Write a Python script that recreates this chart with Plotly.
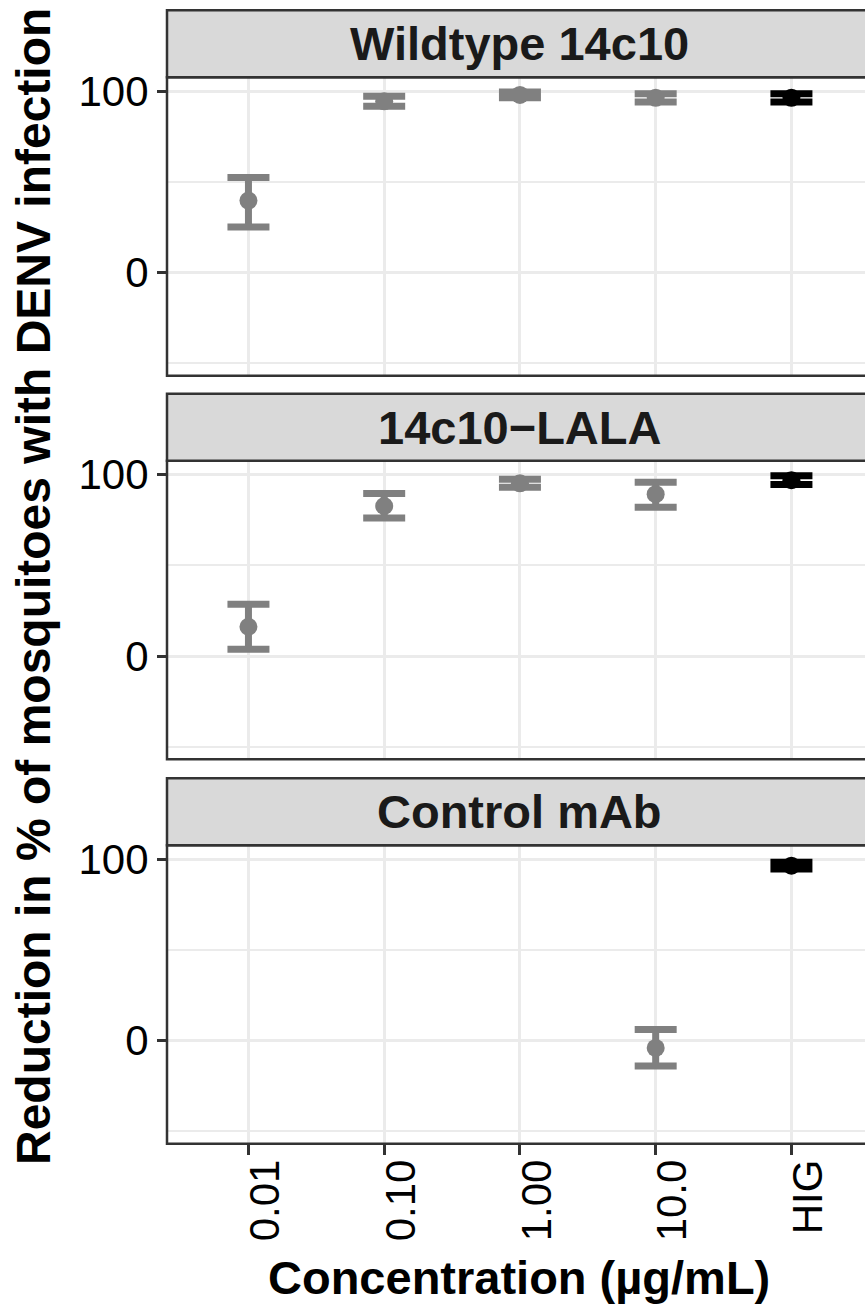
import plotly.graph_objects as go

# ---------------- data ----------------
categories = ["0.01", "0.10", "1.00", "10.0", "HIG"]
panel_titles = ["Wildtype 14c10", "14c10\u2212LALA", "Control mAb"]

wt_mean = [39.7, 94.4, 97.9, 96.3, 96.3]
wt_low = [25.2, 91.6, 96.3, 94.0, 94.0]
wt_high = [52.4, 97.1, 99.5, 98.6, 98.6]

lala_mean = [16.2, 82.7, 95.2, 89.2, 96.9]
lala_low = [3.8, 76.1, 93.0, 82.0, 94.6]
lala_high = [28.6, 89.6, 97.4, 95.8, 99.3]

ctrl_mean = [None, None, None, -4.0, 96.4]
ctrl_low = [None, None, None, -13.9, 94.6]
ctrl_high = [None, None, None, 6.2, 98.2]

y_ticks = [0, 100]
x_title = "Concentration (\u00b5g/mL)"
y_title = "Reduction in % of mosquitoes with DENV infection"

# ---------------- layout constants ----------------
W, H = 865, 1312
L_MARGIN = 167
panel_px = [(77.3, 375.8), (460.8, 759.3), (845.3, 1143.8)]  # top, bottom
STRIP_H = 67
Y_RANGE = [-56.8, 107.6]
X_RANGE = [-0.6, 4.542]
GREY = "#808080"
BLACK = "#000000"
BORDER = "#333333"
GRID = "#ebebeb"
FONT = "Liberation Sans"


def frac(px):
    return 1 - px / H


series = [
    (wt_mean, wt_low, wt_high),
    (lala_mean, lala_low, lala_high),
    (ctrl_mean, ctrl_low, ctrl_high),
]

fig = go.Figure()

for i, (mean, low, high) in enumerate(series):
    xa = "x" if i == 0 else f"x{i + 1}"
    ya = "y" if i == 0 else f"y{i + 1}"
    for is_hig, color in [(False, GREY), (True, BLACK)]:
        xs, ys, up, dn = [], [], [], []
        for c, m, lo, hi in zip(categories, mean, low, high):
            if m is None or (c == "HIG") != is_hig:
                continue
            xs.append(c)
            ys.append(m)
            up.append(hi - m)
            dn.append(m - lo)
        if not xs:
            continue
        fig.add_trace(go.Scatter(
            x=xs, y=ys, xaxis=xa, yaxis=ya, mode="markers",
            marker=dict(size=18, color=color, line=dict(width=0)),
            error_y=dict(type="data", array=up, arrayminus=dn, visible=True,
                         color=color, thickness=7, width=21),
            showlegend=False, hoverinfo="skip",
        ))

layout = dict(
    width=W, height=H,
    margin=dict(l=L_MARGIN, r=0, t=0, b=0, pad=0),
    paper_bgcolor="white", plot_bgcolor="white",
    font=dict(family=FONT, color="black"),
    showlegend=False,
)

shapes = []
annotations = []
for i, (top, bot) in enumerate(panel_px):
    sfx = "" if i == 0 else str(i + 1)
    last = i == len(panel_px) - 1
    layout[f"xaxis{sfx}"] = dict(
        domain=[0, 1], anchor=f"y{sfx}", type="category",
        categoryorder="array", categoryarray=categories,
        range=X_RANGE, showgrid=True, gridcolor=GRID, gridwidth=3,
        zeroline=False, showline=False, automargin=False,
        showticklabels=last, ticks="outside" if last else "",
        ticklen=10, tickwidth=3, tickcolor=BORDER,
        tickangle=-90, tickfont=dict(size=42, color="black", family=FONT),
        ticklabelshift=17, ticklabelstandoff=-12,
        fixedrange=True,
    )
    layout[f"yaxis{sfx}"] = dict(
        domain=[frac(bot), frac(top)], anchor=f"x{sfx}",
        range=Y_RANGE, tickmode="array", tickvals=y_ticks,
        showgrid=True, gridcolor=GRID, gridwidth=3,
        minor=dict(tickmode="linear", tick0=0, dtick=50, showgrid=True,
                   gridcolor=GRID, gridwidth=2, ticks=""),
        zeroline=False, showline=False, automargin=False,
        ticks="outside", ticklen=9, tickwidth=3, tickcolor=BORDER,
        tickfont=dict(size=42, color="black", family=FONT),
        ticklabelstandoff=0, fixedrange=True,
    )
    # panel border (right edge lies beyond the picture)
    shapes.append(dict(type="rect", xref="paper", yref="paper",
                       x0=0, x1=1.05, y0=frac(bot), y1=frac(top),
                       line=dict(color=BORDER, width=2.5),
                       fillcolor="rgba(0,0,0,0)", layer="above"))
    # strip
    shapes.append(dict(type="rect", xref="paper", yref="paper",
                       x0=0, x1=1.05, y0=frac(top), y1=frac(top - STRIP_H),
                       line=dict(color=BORDER, width=2.5),
                       fillcolor="#d9d9d9", layer="above"))
    annotations.append(dict(
        text=f"<b>{panel_titles[i]}</b>", xref="paper", yref="paper",
        x=0.505, y=frac(top - STRIP_H / 2), xanchor="center", yanchor="middle",
        showarrow=False, font=dict(size=47, color="#1a1a1a", family=FONT),
    ))

annotations.append(dict(
    text=f"<b>{x_title}</b>", xref="paper", yref="paper",
    x=0.505, y=frac(1277), xanchor="center", yanchor="middle",
    showarrow=False, font=dict(size=47, color="black", family=FONT),
))
annotations.append(dict(
    text=f"<b>{y_title}</b>", xref="paper", yref="paper",
    x=0, xshift=-134, y=frac(587), xanchor="center", yanchor="middle",
    textangle=-90, showarrow=False,
    font=dict(size=48, color="black", family=FONT),
))

layout["shapes"] = shapes
layout["annotations"] = annotations
fig.update_layout(**layout)

fig.write_html(
    "out.html",
    config={"displayModeBar": False, "staticPlot": True},
    post_script="document.body.style.margin='0';document.body.style.overflow='hidden';",
)
